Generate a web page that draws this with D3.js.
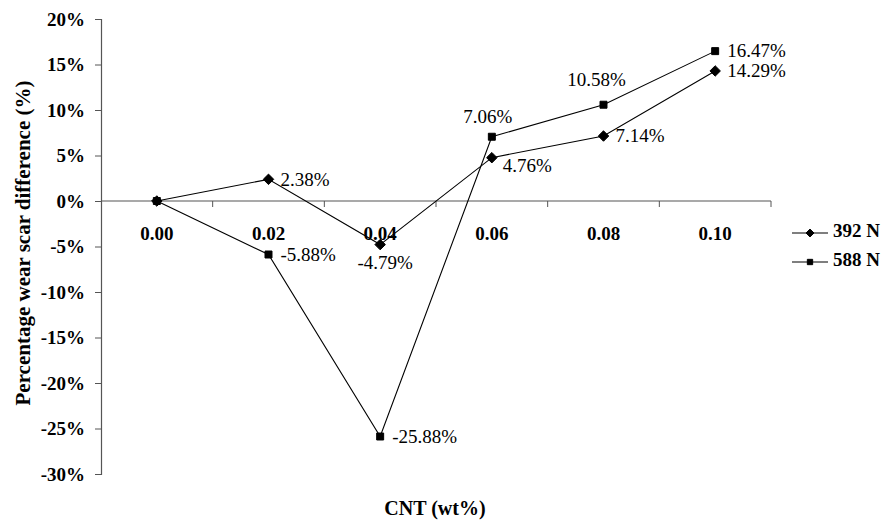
<!DOCTYPE html>
<html>
<head>
<meta charset="utf-8">
<script src="https://cdn.jsdelivr.net/npm/d3@7/dist/d3.min.js"></script>
<style>
  html, body { margin: 0; padding: 0; background: #fff; }
</style>
</head>
<body>
<svg id="chart" width="884" height="521"></svg>
<script>
// CNT loading (wt%) on the x axis
const categories = ["0.00", "0.02", "0.04", "0.06", "0.08", "0.10"];
// Percentage wear scar difference at each load
const values392 = [0, 2.38, -4.79, 4.76, 7.14, 14.29];
const values588 = [0, -5.88, -25.88, 7.06, 10.58, 16.47];
const seriesNames = ["392 N", "588 N"];
const yTicks = [20, 15, 10, 5, 0, -5, -10, -15, -20, -25, -30];
// where each value label sits relative to its marker
const labelPlace392 = ["none", "right", "below", "belowRight", "right", "right"];
const labelPlace588 = ["none", "right", "right", "aboveLeft", "above", "right"];

const FONT = "'Liberation Serif', 'Times New Roman', serif";
const svg = d3.select("#chart");
const plotLeft = 101, plotRight = 771, plotTop = 19, plotBottom = 474;

const band = d3.scaleBand().domain(categories).range([plotLeft, plotRight]);
const x = d3.scalePoint().domain(categories).range([plotLeft, plotRight]).padding(0.5);
const y = d3.scaleLinear().domain([-30, 20]).range([plotBottom, plotTop]);
const y0 = y(0);

const axisColor = "#555";

// y axis
const yAxis = svg.append("g")
  .attr("transform", `translate(${plotLeft},0)`)
  .call(d3.axisLeft(y).tickValues(yTicks).tickSize(6).tickPadding(10)
    .tickFormat(d => d + "%"));
yAxis.select(".domain").attr("stroke", axisColor).attr("stroke-width", 1.2);
yAxis.selectAll(".tick line").attr("stroke", axisColor);
yAxis.selectAll("text")
  .attr("font-size", 19).attr("font-weight", "bold").attr("fill", "#000");

// x axis along zero, ticks between categories
const bounds = categories.map(c => band(c)).concat([plotRight]);
const xg = svg.append("g");
xg.append("line").attr("x1", plotLeft).attr("x2", plotRight).attr("y1", y0).attr("y2", y0)
  .attr("stroke", axisColor).attr("stroke-width", 1.2);
xg.selectAll("line.tk").data(bounds.slice(1)).join("line").attr("class", "tk")
  .attr("x1", d => d).attr("x2", d => d).attr("y1", y0).attr("y2", y0 + 6)
  .attr("stroke", axisColor);
xg.selectAll("text").data(categories).join("text")
  .attr("x", d => x(d)).attr("y", 240)
  .attr("text-anchor", "middle").attr("font-size", 19).attr("font-weight", "bold")
  .text(d => d);

// axis titles
svg.append("text")
  .attr("transform", `translate(25,243) rotate(-90)`)
  .attr("text-anchor", "middle").attr("dominant-baseline", "middle")
  .attr("font-size", 21).attr("font-weight", "bold")
  .text("Percentage wear scar difference (%)");
svg.append("text")
  .attr("x", 435).attr("y", 515)
  .attr("text-anchor", "middle").attr("font-size", 20).attr("font-weight", "bold")
  .text("CNT (wt%)");

const line = d3.line().x((d, i) => x(categories[i])).y(d => y(d));

function drawSeries(vals, shape, places) {
  const g = svg.append("g");
  g.append("path").datum(vals).attr("d", line)
    .attr("fill", "none").attr("stroke", "#000").attr("stroke-width", 1.1);
  const sym = shape === "diamond"
    ? d3.symbol().type(d3.symbolDiamond2).size(70)
    : d3.symbol().type(d3.symbolSquare2).size(62);
  g.selectAll("path.m").data(vals).join("path").attr("class", "m")
    .attr("d", sym)
    .attr("transform", (d, i) => `translate(${x(categories[i])},${y(d)})`)
    .attr("fill", "#000").attr("stroke", "#000").attr("stroke-width", 1);
  const offs = {
    right: [12, 2, "start"],
    below: [5, 20, "middle"],
    belowRight: [11, 10, "start"],
    above: [-7, -23, "middle"],
    aboveLeft: [-4, -18, "middle"]
  };
  vals.forEach((v, i) => {
    const p = places[i];
    if (p === "none") return;
    const [dx, dy, anchor] = offs[p];
    g.append("text")
      .attr("x", x(categories[i]) + dx).attr("y", y(v) + dy)
      .attr("dominant-baseline", "middle").attr("text-anchor", anchor)
      .attr("font-size", 19).text(v.toFixed(2) + "%");
  });
}
drawSeries(values392, "diamond", labelPlace392);
drawSeries(values588, "square", labelPlace588);

// legend
const legend = svg.append("g");
seriesNames.forEach((name, i) => {
  const ly = 233 + i * 29;
  legend.append("line").attr("x1", 792).attr("x2", 828).attr("y1", ly).attr("y2", ly)
    .attr("stroke", "#000").attr("stroke-width", 1.1);
  legend.append("path")
    .attr("d", i === 0 ? d3.symbol().type(d3.symbolDiamond2).size(40)()
                       : d3.symbol().type(d3.symbolSquare2).size(36)())
    .attr("transform", `translate(810,${ly})`).attr("fill", "#000").attr("stroke", "#000");
  legend.append("text").attr("x", 833).attr("y", ly)
    .attr("dominant-baseline", "middle").attr("font-size", 19).attr("font-weight", "bold")
    .text(name);
});

// one typeface for every label
svg.selectAll("text").attr("font-family", FONT).style("font-family", FONT);
</script>
</body>
</html>
